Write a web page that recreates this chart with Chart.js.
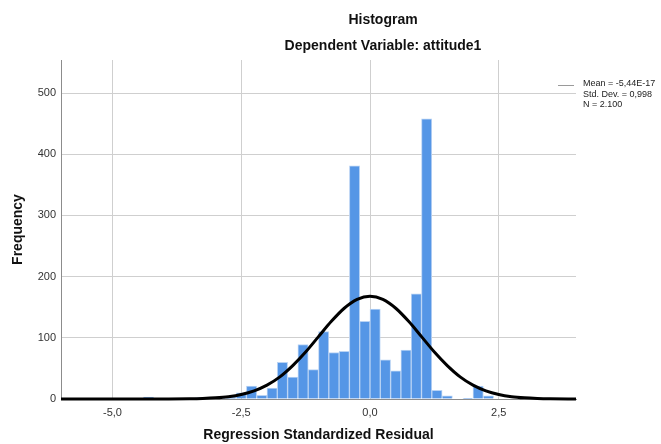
<!DOCTYPE html>
<html>
<head>
<meta charset="utf-8">
<title>Histogram</title>
<script src="https://cdn.jsdelivr.net/npm/chart.js@4"></script>
<style>
  html, body { margin: 0; padding: 0; background: #fff; }
  #wrap { position: relative; width: 661px; height: 444px; }
</style>
</head>
<body>
<div id="wrap"><canvas id="hist"></canvas></div>
<script>
// bin centres (width 0.2) and counts per bin
const binCenters = [-4.3, -4.1, -3.9, -3.7, -3.5, -3.3, -3.1, -2.9, -2.7, -2.5,
  -2.3, -2.1, -1.9, -1.7, -1.5, -1.3, -1.1, -0.9, -0.7, -0.5,
  -0.3, -0.1, 0.1, 0.3, 0.5, 0.7, 0.9, 1.1, 1.3, 1.5,
  1.7, 1.9, 2.1, 2.3];
const frequencies = [3, 0, 0, 0, 0, 2, 0, 2, 3, 10,
  21, 6, 18, 60, 36, 89, 48, 110, 76, 78,
  381, 127, 147, 64, 46, 80, 172, 458, 14, 5,
  0, 1, 21, 5];

// normal curve
const curveX = [-6, -5, -4.5, -4, -3.5, -3.25, -3, -2.75, -2.5, -2.25, -2, -1.75, -1.5, -1.25, -1,
  -0.75, -0.5, -0.25, 0, 0.25, 0.5, 0.75, 1, 1.25, 1.5, 1.75, 2, 2.25, 2.5, 2.75, 3, 3.25, 3.5, 4];
const curveY = [0, 0, 0, 0.1, 0.4, 0.9, 1.9, 3.8, 7.4, 13.4, 22.7, 36.2, 54.6, 76.7, 101.9,
  126.9, 148.3, 162.8, 168, 162.8, 148.3, 126.9, 101.9, 76.7, 54.6, 36.2, 22.7, 13.4, 7.4, 3.8, 1.9, 0.9, 0.4, 0.1];

const xTicks = [-5, -2.5, 0, 2.5];
const yTicks = [0, 100, 200, 300, 400, 500];
const statsLines = ['Mean = -5,44E-17', 'Std. Dev. = 0,998', 'N = 2.100'];
const mainTitle = 'Histogram';
const subTitle = 'Dependent Variable: attitude1';

const FONT = "Arial, 'Liberation Sans', sans-serif";

// titles and the stats box on the right
const extrasPlugin = {
  id: 'extras',
  afterDraw(chart) {
    const ctx = chart.ctx;
    ctx.save();
    ctx.fillStyle = '#111';
    ctx.textAlign = 'center';
    ctx.textBaseline = 'middle';
    ctx.font = 'bold 14px ' + FONT;
    ctx.fillText(mainTitle, 383, 20);
    ctx.fillText(subTitle, 383, 46);

    ctx.strokeStyle = '#9a9a9a';
    ctx.lineWidth = 1;
    ctx.beginPath();
    ctx.moveTo(558, 85.5);
    ctx.lineTo(574, 85.5);
    ctx.stroke();

    ctx.textAlign = 'left';
    ctx.font = '9px ' + FONT;
    ctx.fillStyle = '#222';
    statsLines.forEach((t, i) => ctx.fillText(t, 583, 84 + i * 10.5));
    ctx.restore();
  }
};

const ctx = document.getElementById('hist').getContext('2d');
new Chart(ctx, {
  data: {
    datasets: [
      {
        type: 'line',
        data: curveX.map((x, i) => ({ x: x, y: curveY[i] })),
        borderColor: '#000',
        borderWidth: 3,
        pointRadius: 0,
        cubicInterpolationMode: 'monotone',
        clip: false,
        order: 0
      },
      {
        type: 'bar',
        data: binCenters.map((x, i) => ({ x: x, y: frequencies[i] })),
        backgroundColor: '#5596e6',
        borderColor: '#b9d3f4',
        borderWidth: 1,
        borderSkipped: 'start',
        barPercentage: 1,
        categoryPercentage: 1,
        order: 1
      }
    ]
  },
  options: {
    responsive: true,
    maintainAspectRatio: false,
    animation: false,
    layout: { padding: { top: 60, right: 85, left: 0, bottom: 0 } },
    plugins: {
      legend: { display: false },
      tooltip: { enabled: false }
    },
    scales: {
      x: {
        type: 'linear',
        min: -6,
        max: 4,
        offset: false,
        afterBuildTicks: s => { s.ticks = xTicks.map(v => ({ value: v })); },
        afterFit: s => { s.height = 45; },
        ticks: {
          padding: 7,
          color: '#333',
          font: { family: FONT, size: 11 },
          callback: v => v.toFixed(1).replace('.', ',')
        },
        grid: { color: '#cfcfcf', lineWidth: 1, drawTicks: false, offset: false },
        border: { display: true, color: '#8c8c8c' },
        title: {
          display: true,
          text: 'Regression Standardized Residual',
          color: '#111',
          font: { family: FONT, size: 14, weight: 'bold' },
          padding: { top: 0, bottom: 0 }
        }
      },
      y: {
        min: 0,
        max: 554,
        afterBuildTicks: s => { s.ticks = yTicks.map(v => ({ value: v })); },
        afterFit: s => { s.width = 61; },
        ticks: {
          padding: 5,
          color: '#333',
          font: { family: FONT, size: 11 }
        },
        grid: { color: '#cfcfcf', lineWidth: 1, drawTicks: false },
        border: { display: true, color: '#8c8c8c' },
        title: {
          display: true,
          text: 'Frequency',
          color: '#111',
          font: { family: FONT, size: 14, weight: 'bold' },
          padding: { top: 10, bottom: 0 }
        }
      }
    }
  },
  plugins: [extrasPlugin]
});
</script>
</body>
</html>
